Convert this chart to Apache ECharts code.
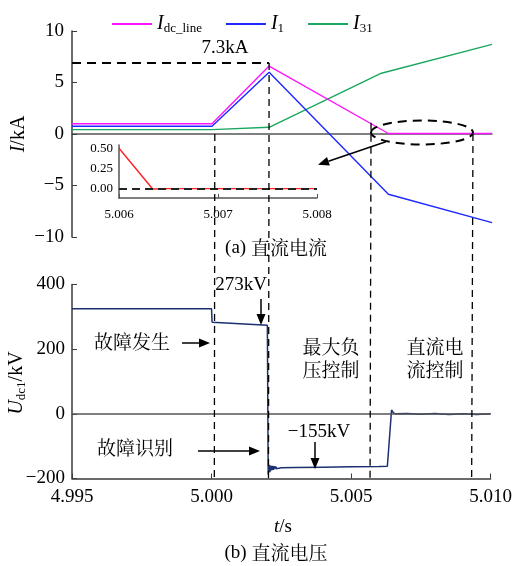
<!DOCTYPE html>
<html>
<head>
<meta charset="utf-8">
<script src="https://cdn.jsdelivr.net/npm/echarts@6/dist/echarts.min.js"></script>
<style>
html,body{margin:0;padding:0;background:#fff;}
#c{width:515px;height:566px;}
</style>
</head>
<body>
<div id="c"></div>
<script>
// ---- data ----
const idcTime = [4.995, 5.0000, 5.00204, 5.0063, 5.010];
const idcLine = [1.0, 1.0, 6.6, 0.05, 0.05];
const i1Time = [4.995, 5.0000, 5.00204, 5.0063, 5.010];
const i1 = [0.75, 0.75, 6.0, -5.85, -8.6];
const i31Time = [4.995, 5.0000, 5.00204, 5.00605, 5.010];
const i31 = [0.42, 0.42, 0.65, 5.9, 8.7];

const insetTime = [5.006, 5.00634, 5.0065, 5.007, 5.0075, 5.008];
const insetIdc = [0.5, 0.0, 0.005, 0.005, 0.005, 0.005];

const uTime = [4.995, 5.0000, 5.00002, 5.00200, 5.00203, 5.00206, 5.00209, 5.00212, 5.00215, 5.00218,
  5.00221, 5.00224, 5.00227, 5.00230, 5.00234, 5.00238, 5.00242, 5.00247, 5.00250, 5.00300,
  5.00400, 5.00500, 5.00600, 5.00630, 5.00645, 5.00652, 5.00660, 5.00700, 5.00750, 5.00800,
  5.00850, 5.00900, 5.00950, 5.01000];
const uDc1 = [325, 325, 283, 274, -188, -158, -180, -160, -175, -161,
  -173, -162, -171, -163, -170, -164, -168, -165, -167, -166,
  -165, -164, -163, -162, 12, 3, 0, 1, -1, 1,
  -2, 0, -2, 0];

const currentTicks = [-10, -5, 0, 5, 10];
const voltageTicks = [-200, 0, 200, 400];
const timeTicks = [4.995, 5.000, 5.005, 5.010];
const insetYTicks = [0, 0.25, 0.5];
const insetXTicks = [5.006, 5.007, 5.008];

// annotation anchors
const eventTimes = [5.0001, 5.00204, 5.00568, 5.00932];
const eventTopValues = [0, 6.9, 1.1, 0];
const peakLevel = 6.9;

const zip = (a, b) => a.map((x, i) => [x, b[i]]);
const SERIF = '"Liberation Serif","Times New Roman",serif';
const CJK = '"Noto Serif CJK SC","Noto Sans CJK SC",sans-serif';
const minus = v => String(v).replace('-', '\u2212');
const axisCol = '#3a3a3a';

const chart = echarts.init(document.getElementById('c'), null, {renderer: 'canvas'});

const option = {
  animation: false,
  backgroundColor: '#fff',
  legend: {
    left: 107, top: 9, itemWidth: 40, itemHeight: 2, itemGap: 24, icon: 'rect',
    data: ['Idc_line', 'I1', 'I31'],
    formatter: function (n) {
      if (n === 'Idc_line') return '{i|I}{s|dc_line}';
      if (n === 'I1') return '{i|I}{s|1}';
      return '{i|I}{s|31}';
    },
    textStyle: {
      color: '#000',
      rich: {
        i: {fontFamily: SERIF, fontStyle: 'italic', fontSize: 20, color: '#000'},
        s: {fontFamily: SERIF, fontSize: 13, color: '#000', padding: [9, 0, 0, 0]}
      }
    }
  },
  grid: [
    {left: 72, top: 31, width: 420, height: 206},
    {left: 72, top: 284.5, width: 420, height: 194},
    {left: 119, top: 145, width: 198, height: 53}
  ],
  xAxis: [
    {gridIndex: 0, type: 'value', min: 4.995, max: 5.010,
      axisLine: {show: true, onZero: true, lineStyle: {color: '#555', width: 1.5}},
      axisTick: {show: false}, axisLabel: {show: false}, splitLine: {show: false}},
    {gridIndex: 1, type: 'value', min: 4.995, max: 5.010, interval: 0.005,
      axisLine: {show: true, onZero: false, lineStyle: {color: axisCol, width: 1.5}},
      axisTick: {show: true, inside: true, length: 5, lineStyle: {color: axisCol}},
      axisLabel: {show: true, margin: 9, fontFamily: SERIF, fontSize: 19, color: '#000',
        customValues: timeTicks, formatter: v => Number(v).toFixed(3)},
      splitLine: {show: false}},
    {gridIndex: 2, type: 'value', min: 5.006, max: 5.008,
      axisLine: {show: true, onZero: false, lineStyle: {color: '#555', width: 1.5}},
      axisTick: {show: true, inside: true, length: 4, customValues: insetXTicks, lineStyle: {color: '#555'}},
      axisLabel: {show: true, margin: 10, fontFamily: SERIF, fontSize: 13, color: '#000',
        customValues: insetXTicks, formatter: v => Number(v).toFixed(3)},
      splitLine: {show: false}}
  ],
  yAxis: [
    {gridIndex: 0, type: 'value', min: -10, max: 10, interval: 5,
      axisLine: {show: true, onZero: false, lineStyle: {color: axisCol, width: 1.5}},
      axisTick: {show: true, inside: true, length: 5, lineStyle: {color: axisCol}},
      axisLabel: {margin: 8, fontFamily: SERIF, fontSize: 19, color: '#000', formatter: v => minus(v)},
      splitLine: {show: false}},
    {gridIndex: 1, type: 'value', min: -200, max: 400, interval: 200,
      axisLine: {show: true, onZero: false, lineStyle: {color: axisCol, width: 1.5}},
      axisTick: {show: true, inside: true, length: 5, lineStyle: {color: axisCol}},
      axisLabel: {margin: 7, fontFamily: SERIF, fontSize: 19, color: '#000', formatter: v => minus(v)},
      splitLine: {show: false}},
    {gridIndex: 2, type: 'value', min: -0.11, max: 0.54,
      axisLine: {show: true, onZero: false, lineStyle: {color: '#555', width: 1.5}},
      axisTick: {show: false},
      axisLabel: {margin: 6, fontFamily: SERIF, fontSize: 13, color: '#000',
        customValues: insetYTicks, formatter: v => Number(v).toFixed(2)},
      splitLine: {show: false}}
  ],
  series: [
    {name: 'Idc_line', type: 'line', xAxisIndex: 0, yAxisIndex: 0, data: zip(idcTime, idcLine),
      showSymbol: false, symbol: 'none', color: '#ff14ff', lineStyle: {width: 1.4}, z: 3},
    {name: 'I1', type: 'line', xAxisIndex: 0, yAxisIndex: 0, data: zip(i1Time, i1),
      showSymbol: false, symbol: 'none', color: '#1e28ff', lineStyle: {width: 1.4}, z: 4},
    {name: 'I31', type: 'line', xAxisIndex: 0, yAxisIndex: 0, data: zip(i31Time, i31),
      showSymbol: false, symbol: 'none', color: '#1aa860', lineStyle: {width: 1.4}, z: 2},
    {name: 'Udc1', type: 'line', xAxisIndex: 1, yAxisIndex: 1, data: zip(uTime, uDc1),
      showSymbol: false, symbol: 'none', color: '#1c3070', lineStyle: {width: 1.5}, z: 3,
      markLine: {silent: true, symbol: 'none', label: {show: false},
        lineStyle: {color: '#555', type: 'solid', width: 1.5}, data: [{yAxis: 0}]}},
    {name: 'inset', type: 'line', xAxisIndex: 2, yAxisIndex: 2, data: zip(insetTime, insetIdc),
      showSymbol: false, symbol: 'none', color: '#ff2020', lineStyle: {width: 1.4}, z: 3,
      markLine: {silent: true, symbol: 'none', label: {show: false},
        lineStyle: {color: '#222', type: [8, 5], width: 2}, data: [{yAxis: 0}]}}
  ]
};
chart.setOption(option);

// ---- annotations ----
const p0 = (t, v) => chart.convertToPixel({xAxisIndex: 0, yAxisIndex: 0}, [t, v]);
const p1 = (t, v) => chart.convertToPixel({xAxisIndex: 1, yAxisIndex: 1}, [t, v]);
const g = [];
function dashed(a, b, w, dash) {
  g.push({type: 'line', shape: {x1: a[0], y1: a[1], x2: b[0], y2: b[1]},
    style: {stroke: '#000', lineWidth: w, lineDash: dash}, z: 10});
}
function arrow(x1, y1, x2, y2) {
  const L = 11, W = 4.5;
  const dx = x2 - x1, dy = y2 - y1, len = Math.hypot(dx, dy);
  const ux = dx / len, uy = dy / len;
  const bx = x2 - ux * L, by = y2 - uy * L;
  g.push({type: 'line', shape: {x1: x1, y1: y1, x2: bx, y2: by},
    style: {stroke: '#000', lineWidth: 1.5}, z: 10});
  g.push({type: 'polygon', shape: {points: [[x2, y2], [bx - uy * W, by + ux * W], [bx + uy * W, by - ux * W]]},
    style: {fill: '#000'}, z: 10});
}
function txt(x, y, s, font, size, extra) {
  g.push(Object.assign({type: 'text', x: x, y: y, z: 11,
    style: Object.assign({text: s, fontFamily: font, fontSize: size, fill: '#000',
      align: 'center', verticalAlign: 'middle'}, extra || {})}));
}

// vertical event lines spanning both panels
eventTimes.forEach((t, i) => {
  dashed(p0(t, eventTopValues[i]), p1(t, -200), 1.3, [7, 5]);
});
// peak horizontal line
dashed(p0(4.995, peakLevel), p0(eventTimes[1], peakLevel), 2, [9, 6]);
// ellipse around the zero region
const eL = p0(eventTimes[2], 0.15), eR = p0(eventTimes[3], 0.15);
g.push({type: 'ellipse', shape: {cx: (eL[0] + eR[0]) / 2, cy: eL[1], rx: (eR[0] - eL[0]) / 2, ry: 12},
  style: {fill: 'none', stroke: '#000', lineWidth: 2, lineDash: [9, 6]}, z: 10});
// arrow to inset
const aS = p0(5.00621, -0.75), aE = p0(5.003786, -2.98);
arrow(aS[0], aS[1], aE[0], aE[1]);

txt(225, 48, '7.3kA', SERIF, 19);
txt(276, 248, '{a|(a) }{c|直流电流}', SERIF, 19, {rich: {a: {fontFamily: SERIF, fontSize: 19}, c: {fontFamily: CJK, fontSize: 19}}});

// lower panel annotations
txt(241, 285, '273kV', SERIF, 19);
arrow(261, 299, 261, 325);
txt(132, 342, '故障发生', CJK, 19);
arrow(182, 343, 210, 343);
txt(331, 347, '最大负', CJK, 19);
txt(331, 370, '压控制', CJK, 19);
txt(435, 347, '直流电', CJK, 19);
txt(435, 370, '流控制', CJK, 19);
txt(135, 448, '故障识别', CJK, 19);
arrow(198, 451, 260, 451);
txt(319, 432, '\u2212155kV', SERIF, 19);
arrow(315, 442, 315, 469);
txt(283, 527, '{i|t}{n|/s}', SERIF, 19, {rich: {i: {fontFamily: SERIF, fontStyle: 'italic', fontSize: 19}, n: {fontFamily: SERIF, fontSize: 19}}});
txt(276, 553, '{a|(b) }{c|直流电压}', SERIF, 19, {rich: {a: {fontFamily: SERIF, fontSize: 19}, c: {fontFamily: CJK, fontSize: 19}}});

// axis titles (rotated)
g.push({type: 'text', x: 19, y: 134, rotation: Math.PI / 2, z: 11,
  style: {text: '{i|I}{n|/kA}', align: 'center', verticalAlign: 'middle',
    rich: {i: {fontFamily: SERIF, fontStyle: 'italic', fontSize: 20}, n: {fontFamily: SERIF, fontSize: 20}}}});
g.push({type: 'text', x: 17, y: 383, rotation: Math.PI / 2, z: 11,
  style: {text: '{i|U}{s|dc1}{n|/kV}', align: 'center', verticalAlign: 'middle',
    rich: {i: {fontFamily: SERIF, fontStyle: 'italic', fontSize: 20},
      s: {fontFamily: SERIF, fontSize: 13, padding: [9, 0, 0, 0]},
      n: {fontFamily: SERIF, fontSize: 20}}}});

chart.setOption({graphic: g});
</script>
</body>
</html>
